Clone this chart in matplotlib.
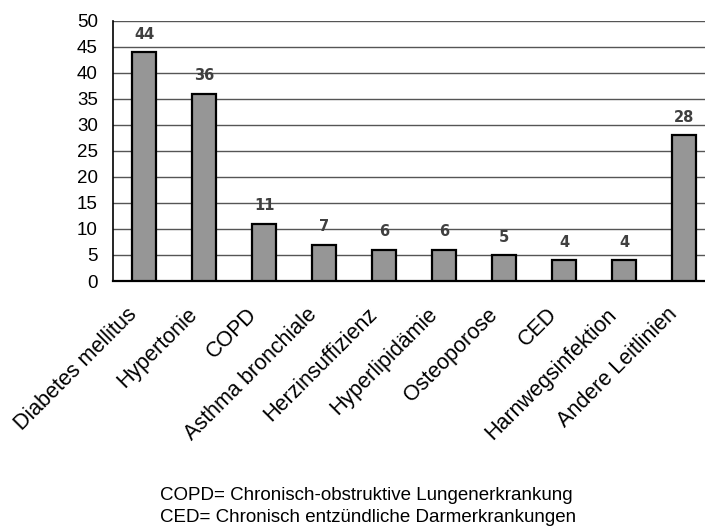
import matplotlib.pyplot as plt
from matplotlib.transforms import ScaledTranslation

plt.rcParams['font.family'] = ['Liberation Sans', 'DejaVu Sans']

kategorien = ['Diabetes mellitus', 'Hypertonie', 'COPD', 'Asthma bronchiale',
              'Herzinsuffizienz', 'Hyperlipidämie', 'Osteoporose', 'CED',
              'Harnwegsinfektion', 'Andere Leitlinien']
anzahl = [44, 36, 11, 7, 6, 6, 5, 4, 4, 28]
y_ticks = [0, 5, 10, 15, 20, 25, 30, 35, 40, 45, 50]
fussnote = ['COPD= Chronisch-obstruktive Lungenerkrankung',
            'CED= Chronisch entzündliche Darmerkrankungen']

fig = plt.figure(figsize=(7.05, 5.27), dpi=100)
# Achsenbereich in Pixeln: links 113, oben 20.7, unten 281, rechts bis zum Rand
ax = fig.add_axes([113 / 705, 1 - 281 / 527, 592 / 705, (281 - 20.7) / 527])

x = list(range(len(kategorien)))
ax.bar(x, anzahl, width=0.4, color='#969696', edgecolor='black', linewidth=1.6, zorder=3)

for xi, v in zip(x, anzahl):
    ax.text(xi, v + 2.0, str(v), ha='center', va='bottom', fontsize=10.5,
            fontweight='bold', color='#404040', family='DejaVu Sans')

ax.set_xlim(-0.52, 9.35)
ax.set_ylim(0, 50)
ax.set_yticks(y_ticks)
ax.set_yticklabels([str(t) for t in y_ticks], fontsize=13.5)
ax.yaxis.grid(True, color='#555555', linewidth=1.0, zorder=0)
ax.tick_params(axis='y', length=0, pad=11)
ax.tick_params(axis='x', length=0, pad=22)
ax.set_xticks(x)
ax.set_xticklabels(kategorien, rotation=45, ha='right', va='center',
                   rotation_mode='anchor', fontsize=15.5)
verschiebung = ScaledTranslation(-10 / 100, 0, fig.dpi_scale_trans)
for lab in ax.get_xticklabels():
    lab.set_transform(lab.get_transform() + verschiebung)

for s in ['top', 'right']:
    ax.spines[s].set_visible(False)
ax.spines['left'].set_linewidth(1.2)
ax.spines['bottom'].set_linewidth(1.6)

fig.text(160 / 705, 1 - 496 / 527, fussnote[0], ha='left', va='center', fontsize=13.5)
fig.text(160 / 705, 1 - 517 / 527, fussnote[1], ha='left', va='center', fontsize=13.5)

fig.savefig('out.png', dpi=100)
